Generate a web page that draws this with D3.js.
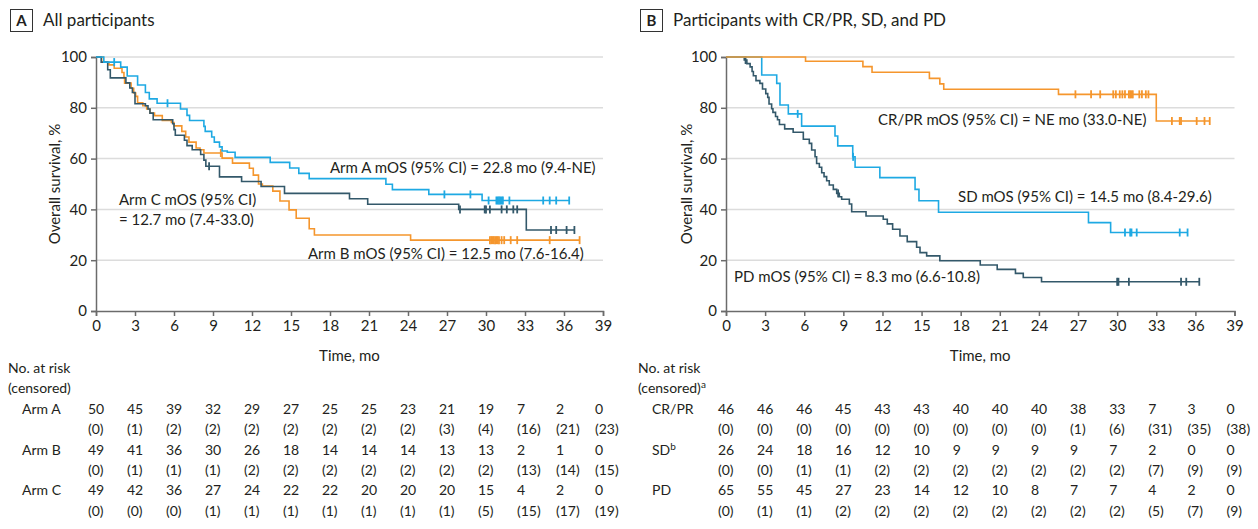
<!DOCTYPE html>
<html><head><meta charset="utf-8">
<script src="https://cdn.jsdelivr.net/npm/d3@7"></script>
<style>
body{margin:0;background:#fff}
text{font-family:Lato, "Open Sans", sans-serif; fill:#231f20}
</style>
</head><body>
<svg id="chart" width="1258" height="529"></svg>
<script>
// ---------- data ----------
const timeTicks = [0,3,6,9,12,15,18,21,24,27,30,33,36,39];
const survTicks = [0,20,40,60,80,100];

// Panel A: [time (mo), survival (%)] at each drop
const armA = [[0,100],[0.6,98],[1.9,96],[2.4,92.5],[3.2,89],[3.8,86],[4.1,83.5],[4.7,81.8],[6.5,79.5],[7.0,77],[7.2,75],[8.3,72.7],[8.4,70.7],[8.9,68.5],[9.1,66.5],[9.5,64.6],[9.7,63],[10.1,62.5],[10.7,60.5],[13.4,58.5],[14.9,56.3],[15.6,54.2],[16.4,52.1],[22.3,49.9],[22.8,47.8],[25.6,45.9],[29.7,43.5]];
const armACens = [1.4,5.5,26.8,28.8,30.2,30.8,30.9,31.0,31.1,31.2,31.3,31.8,34.4,34.9,35.4,36.4];

const armB = [[0,100],[0.56,98],[1.0,96.9],[1.4,95.6],[2.0,93.9],[2.15,92],[2.2,89.7],[2.7,87.7],[2.9,85.8],[3.05,84.5],[3.2,82],[3.6,80.8],[3.9,79.5],[4.15,77.9],[4.5,76.9],[5.1,75],[5.8,74.2],[6.0,72.9],[6.6,70.7],[6.9,68.5],[7.15,66.5],[7.7,64.2],[8.0,63.5],[8.3,62.2],[9.7,60.2],[10.5,58.2],[11.8,56.2],[12.1,53.5],[12.5,50],[12.8,49.2],[13.6,47.2],[14.15,43.3],[14.85,39.8],[15.4,36.5],[16.4,32.4],[16.8,29.9],[24.2,27.9]];
const armBCens = [9.6,30.3,30.4,30.5,30.6,30.7,30.8,30.9,31.0,31.2,31.4,31.9,32.4,34.9,37.2];

const armC = [[0,100],[0.4,98],[0.9,95],[1.1,91.8],[2.3,89.8],[2.6,87.8],[2.8,86],[3.0,81.6],[3.8,80.8],[4.0,79.5],[4.15,77.9],[4.4,75.3],[5.9,73.7],[6.0,71.4],[6.1,69.2],[6.8,67.2],[7.0,65.1],[7.4,63.5],[8.05,61.6],[8.3,59.4],[8.45,57],[9.5,52.8],[11.2,51.0],[12.7,49.0],[14.5,46.3],[19.5,44.2],[20.9,42.0],[27.9,40.0],[33.1,31.9]];
const armCCens = [8.7,28.0,29.9,30.0,30.3,31.2,31.6,32.1,32.4,35.0,35.4,36.2,36.8];

// Panel B
const crpr = [[0,100],[6.1,98.3],[10.5,96.2],[11.2,94],[15.6,91.6],[16.4,89.4],[16.7,87.3],[25.5,85.3],[33.0,74.8]];
const crprCens = [26.8,28.0,28.7,29.7,29.9,30.2,30.4,30.6,30.9,31.0,31.1,31.2,31.7,31.9,32.2,32.4,34.2,34.8,34.9,36.1,36.7,37.1];

const sd = [[0,100],[2.74,92.9],[3.89,89.6],[4.14,81.1],[4.78,77.6],[5.8,72.8],[8.36,68.9],[8.57,65],[9.72,60.7],[9.9,56.6],[11.8,52.5],[14.5,47.9],[14.8,43.4],[16.3,38.9],[27.8,34.8],[29.5,30.9]];
const sdCens = [5.5,9.75,30.6,31.0,31.1,31.5,34.8,35.4];

const pd = [[0,100],[1.4,98.8],[1.6,97.4],[1.85,96.1],[2.0,94.3],[2.1,92.6],[2.3,90.7],[2.6,89.6],[2.8,87.4],[3.05,85.6],[3.2,84.1],[3.3,81.5],[3.5,79.6],[3.6,78.2],[3.8,76.6],[3.95,75.3],[4.1,73.4],[4.5,71.7],[5.15,70.4],[5.93,67.6],[6.39,66],[6.57,63.4],[6.83,60.7],[6.95,58.1],[7.16,56.6],[7.34,54.4],[7.52,52.9],[7.72,51.3],[7.92,49.6],[8.23,47.9],[8.49,46.3],[8.69,45],[8.87,44],[9.46,42.1],[9.64,39.1],[10.74,37.4],[12.06,36.1],[12.37,34.3],[12.78,32.2],[13.34,29.5],[13.9,27.3],[14.62,25.1],[14.88,23],[15.39,21.7],[16.4,19.8],[19.5,18.1],[20.8,16.4],[22.2,14.8],[22.8,13.2],[24.2,11.5]];
const pdCens = [1.5,8.6,30.0,30.1,30.9,34.9,35.3,36.3];

// Number at risk (censored)
const riskArmA = [50,45,39,32,29,27,25,25,23,21,19,7,2,0];
const censArmA = [0,1,2,2,2,2,2,2,2,3,4,16,21,23];
const riskArmB = [49,41,36,30,26,18,14,14,14,13,13,2,1,0];
const censArmB = [0,1,1,1,2,2,2,2,2,2,2,13,14,15];
const riskArmC = [49,42,36,27,24,22,22,20,20,20,15,4,2,0];
const censArmC = [0,0,0,1,1,1,1,1,1,1,5,15,17,19];
const riskCR = [46,46,46,45,43,43,40,40,40,38,33,7,3,0];
const censCR = [0,0,0,0,0,0,0,0,0,1,6,31,35,38];
const riskSD = [26,24,18,16,12,10,9,9,9,9,7,2,0,0];
const censSD = [0,0,1,1,2,2,2,2,2,2,2,7,9,9];
const riskPD = [65,55,45,27,23,14,12,10,8,7,7,4,2,0];
const censPD = [0,1,1,2,2,2,2,2,2,2,2,5,7,9];

const BLUE = "#1ea9e3", ORANGE = "#f5962d", DARK = "#33586a";

// ---------- drawing ----------
const svg = d3.select("#chart");

function panel(opt) {
  const x = d3.scaleLinear().domain([0,39]).range([opt.x0, opt.x1]);
  const y = d3.scaleLinear().domain([0,100]).range([311, 57]);
  const g = svg.append("g");

  // title
  g.append("rect").attr("x", opt.bx + 0.5).attr("y", 9.5).attr("width", 22).attr("height", 22)
    .attr("fill", "none").attr("stroke", "#333").attr("stroke-width", 1);
  g.append("text").attr("x", opt.bx + 11.5).attr("y", 26).attr("text-anchor", "middle")
    .style("font-weight", "bold").style("font-size", "15px").text(opt.letter);
  g.append("text").attr("x", opt.bx + 33).attr("y", 26).style("font-size", "17px").text(opt.title);

  // grid
  g.append("g").selectAll("line").data(survTicks.filter(d => d > 0)).join("line")
    .attr("x1", x(0)).attr("x2", x(39)).attr("y1", d => y(d)).attr("y2", d => y(d))
    .attr("stroke", "#dcdcdc").attr("stroke-width", 1.5);

  // axes
  const ay = g.append("g").attr("transform", `translate(${x(0)},0)`)
    .call(d3.axisLeft(y).tickValues(survTicks).tickSize(5).tickPadding(4));
  const ax = g.append("g").attr("transform", `translate(0,${y(0)})`)
    .call(d3.axisBottom(x).tickValues(timeTicks).tickSize(5).tickPadding(4));
  [ay, ax].forEach(a => {
    a.select(".domain").attr("stroke", "#6b6b6b").attr("stroke-width", 1.5);
    a.selectAll(".tick line").attr("stroke", "#6b6b6b").attr("stroke-width", 1.5);
    a.selectAll(".tick text").style("font-size", "15px").style("font-family", "Lato, sans-serif").attr("fill", "#231f20");
  });

  g.append("text").attr("transform", `translate(${opt.x0 - opt.labOff},${(y(0)+y(100))/2}) rotate(-90)`)
    .attr("text-anchor", "middle").style("font-size", "15px").text("Overall survival, %");
  g.append("text").attr("x", (x(0)+x(39))/2).attr("y", 361).attr("text-anchor", "middle")
    .style("font-size", "15px").text("Time, mo");

  // curves
  const line = d3.line().x(d => x(d[0])).y(d => y(d[1])).curve(d3.curveStepAfter);
  opt.series.forEach(s => {
    const end = d3.max(s.cens);
    const pts = s.data.concat([[end, s.data[s.data.length-1][1]]]);
    g.append("path").attr("d", line(pts)).attr("fill", "none")
      .attr("stroke", s.color).attr("stroke-width", 1.6);
    const survAt = t => { let v = 100; s.data.forEach(d => { if (d[0] <= t) v = d[1]; }); return v; };
    g.append("g").selectAll("line").data(s.cens).join("line")
      .attr("x1", d => x(d)).attr("x2", d => x(d))
      .attr("y1", d => y(survAt(d)) - 4).attr("y2", d => y(survAt(d)) + 4)
      .attr("stroke", s.color).attr("stroke-width", 1.8);
  });

  // annotations
  opt.labels.forEach(l => {
    g.append("text").attr("x", l.x).attr("y", l.y).style("font-size", "15px").text(l.text);
  });

  // risk table
  const rowY = [373, 393, 414, 434, 455, 475, 495, 516];
  g.append("text").attr("x", opt.bx - 2).attr("y", rowY[0]).style("font-size", "14px").text("No. at risk");
  const h2 = g.append("text").attr("x", opt.bx - 2).attr("y", rowY[1]).style("font-size", "14px").text("(censored)");
  if (opt.supHead) h2.append("tspan").attr("dy", -5).style("font-size", "10px").text(opt.supHead);
  opt.rows.forEach((r, i) => {
    const lt = g.append("text").attr("x", opt.bx + 12).attr("y", rowY[2 + 2*i]).style("font-size", "14px").text(r.name);
    if (r.sup) lt.append("tspan").attr("dy", -5).style("font-size", "10px").text(r.sup);
    g.append("g").selectAll("text").data(r.risk).join("text")
      .attr("x", (d, j) => x(timeTicks[j]) - 8).attr("y", rowY[2 + 2*i])
      .style("font-size", "14px").text(d => d);
    g.append("g").selectAll("text").data(r.cens).join("text")
      .attr("x", (d, j) => x(timeTicks[j]) - 8).attr("y", rowY[3 + 2*i])
      .style("font-size", "14px").text(d => `(${d})`);
  });
}

panel({
  x0: 96, x1: 603, bx: 10, labOff: 36, letter: "A", title: "All participants",
  series: [
    {data: armB, cens: armBCens, color: ORANGE},
    {data: armC, cens: armCCens, color: DARK},
    {data: armA, cens: armACens, color: BLUE}
  ],
  labels: [
    {x: 330, y: 173, text: "Arm A mOS (95% CI) = 22.8 mo (9.4-NE)"},
    {x: 119, y: 205, text: "Arm C mOS (95% CI)"},
    {x: 119, y: 225, text: "= 12.7 mo (7.4-33.0)"},
    {x: 308, y: 259, text: "Arm B mOS (95% CI) = 12.5 mo (7.6-16.4)"}
  ],
  rows: [
    {name: "Arm A", risk: riskArmA, cens: censArmA},
    {name: "Arm B", risk: riskArmB, cens: censArmB},
    {name: "Arm C", risk: riskArmC, cens: censArmC}
  ]
});

panel({
  x0: 726, x1: 1234.5, bx: 640, labOff: 34, letter: "B", title: "Participants with CR/PR, SD, and PD",
  supHead: "a",
  series: [
    {data: pd, cens: pdCens, color: DARK},
    {data: sd, cens: sdCens, color: BLUE},
    {data: crpr, cens: crprCens, color: ORANGE}
  ],
  labels: [
    {x: 878, y: 125, text: "CR/PR mOS (95% CI) = NE mo (33.0-NE)"},
    {x: 958, y: 202, text: "SD mOS (95% CI) = 14.5 mo (8.4-29.6)"},
    {x: 734, y: 282, text: "PD mOS (95% CI) = 8.3 mo (6.6-10.8)"}
  ],
  rows: [
    {name: "CR/PR", risk: riskCR, cens: censCR},
    {name: "SD", sup: "b", risk: riskSD, cens: censSD},
    {name: "PD", risk: riskPD, cens: censPD}
  ]
});
</script>
</body></html>
